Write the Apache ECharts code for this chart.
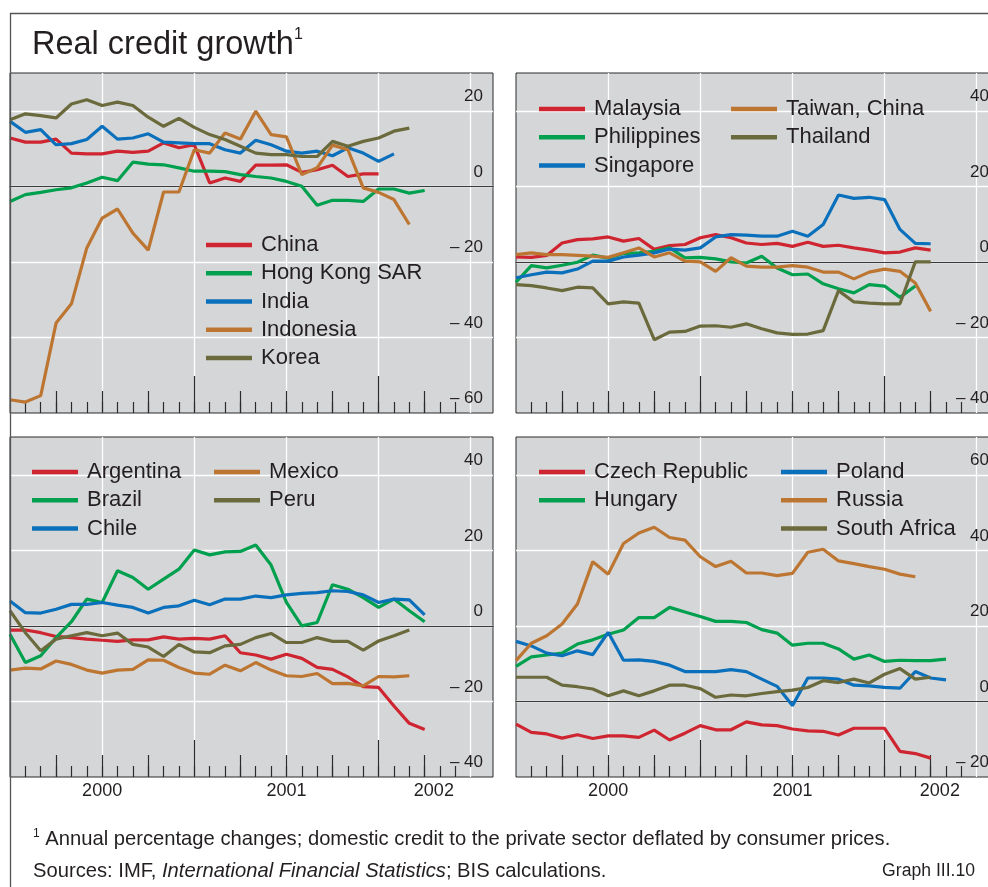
<!DOCTYPE html>
<html><head><meta charset="utf-8">
<script src="https://cdn.jsdelivr.net/npm/echarts@6/dist/echarts.min.js"></script>
<style>html,body{margin:0;padding:0;background:#fff}#c{width:988px;height:887px}</style>
</head><body><div id="c"></div>
<script>
// ---- Data (monthly observations, month index 0 = left edge of each panel) ----
const yearLabels = ['2000', '2001', '2002'];
const yearLabelPos = [6, 18, 27.6];
const shortTicks = [1,2,3,4,5,6,7,8,9,10,11,12,13,14,15,16,17,18,19,20,21,22,23,24,25,26,27,28,29];
const quarterTicks = [3,6,9,15,18,21,27];
const yearTicks = [12,24];

// Asia (top left)
const china = [12.8,11.7,11.7,12.5,8.8,8.6,8.6,9.3,9.0,9.3,11.5,10.2,11.0,0.9,2.2,1.3,5.6,5.6,5.7,3.7,4.4,5.6,2.6,3.3,3.3];
const hongKong = [-4.0,-2.2,-1.6,-0.9,-0.4,0.9,2.4,1.5,6.4,5.9,5.7,4.9,4.0,4.0,3.9,3.1,2.6,2.2,1.3,0,-5.0,-3.7,-3.7,-4.0,-0.7,-0.7,-1.8,-1.1];
const india = [17.2,14.3,15.0,11.0,11.3,12.4,15.9,12.5,12.8,13.9,11.7,11.5,11.3,11.3,9.7,8.8,12.2,11.0,9.3,8.8,9.3,8.1,10.2,8.8,6.6,8.6];
const indonesia = [-56.5,-57.1,-55.4,-36.2,-31.1,-16.3,-8.4,-6.0,-12.4,-16.9,-1.5,-1.5,9.7,8.8,14.1,12.5,19.9,13.7,13.1,3.1,4.9,10.9,9.7,-0.4,-1.6,-3.5,-10.1];
const korea = [17.6,19.2,18.7,18.1,21.8,22.9,21.4,22.3,21.4,18.3,15.9,18.0,15.6,13.7,12.4,10.6,8.8,8.4,8.4,7.9,7.9,11.9,10.6,11.9,12.8,14.6,15.4];

// Asia (top right)
const malaysia = [1.3,1.2,1.7,5.0,5.9,6.1,6.6,5.5,6.2,3.3,4.3,4.6,6.4,7.2,6.4,5.0,4.6,4.9,4.1,5.2,4.1,4.4,3.7,3.1,2.4,2.6,3.7,3.1];
const philippines = [-5.4,-1.0,-1.6,-0.9,-0.1,1.8,1.0,2.2,2.4,2.8,3.7,1.1,1.2,0.8,0,-0.3,1.5,-1.6,-3.4,-3.2,-5.8,-7.1,-8.2,-6.0,-6.4,-9.4,-6.4];
const singapore = [-4.2,-3.4,-2.7,-2.9,-1.9,0.2,0.2,1.3,1.8,2.4,3.4,3.1,3.7,6.6,7.2,7.1,6.8,6.8,8.1,6.8,9.9,17.7,16.8,17.1,16.5,8.6,4.9,4.8];
const taiwan = [1.9,2.4,1.9,1.9,1.7,1.5,1.2,2.4,3.7,1.3,2.4,0.2,0,-2.5,1.1,-1.1,-1.4,-1.4,-1.0,-1.4,-2.7,-2.7,-4.5,-2.7,-1.9,-2.5,-5.6,-13.1];
const thailand = [-6.0,-6.3,-6.9,-7.6,-6.7,-6.9,-11.1,-10.6,-10.9,-20.6,-18.6,-18.4,-17.0,-16.9,-17.3,-16.4,-17.7,-18.8,-19.2,-19.1,-18.2,-7.6,-10.6,-10.9,-11.1,-11.1,0,0];

// Latin America (bottom left)
const argentina = [-1.1,-1.1,-1.8,-2.8,-3.1,-3.5,-3.8,-4.1,-3.7,-3.7,-2.9,-3.5,-3.3,-3.5,-2.6,-7.1,-7.7,-8.8,-7.5,-8.6,-11.0,-11.5,-13.5,-16.1,-16.3,-21.2,-25.8,-27.4];
const brazil = [-2.2,-9.7,-7.9,-3.1,1.1,7.1,6.2,14.6,12.8,9.7,12.4,15.0,20.1,18.8,19.6,19.7,21.4,16.1,6.2,0,0.9,10.9,9.7,7.5,4.9,7.1,4.0,1.1];
const chile = [6.6,3.5,3.4,4.4,5.7,5.7,6.2,5.5,4.9,3.4,4.9,5.3,6.8,5.6,7.1,7.1,7.9,7.5,8.2,8.6,8.8,9.3,9.1,8.2,6.2,7.1,6.9,2.9];
const mexico = [-11.7,-11.2,-11.4,-9.3,-10.2,-11.7,-12.5,-11.7,-11.5,-9.0,-9.1,-11.0,-12.5,-12.8,-10.4,-11.9,-9.7,-11.7,-13.2,-13.4,-12.6,-15.3,-15.2,-15.9,-13.4,-13.5,-13.2];
const peru = [4.0,-1.8,-6.6,-3.5,-2.6,-1.8,-2.6,-1.9,-4.9,-5.6,-8.1,-4.9,-6.9,-7.1,-5.3,-4.9,-3.1,-2.0,-4.4,-4.4,-3.1,-4.1,-4.1,-6.4,-4.0,-2.6,-1.1];

// Europe / Africa (bottom right)
const czech = [-6.0,-8.2,-8.6,-9.7,-8.8,-9.8,-9.1,-9.1,-9.5,-7.6,-10.2,-8.4,-6.4,-7.5,-7.5,-5.4,-6.2,-6.4,-7.3,-7.8,-7.9,-8.9,-7.1,-7.1,-7.1,-13.2,-13.8,-15.0];
const hungary = [9.3,11.8,12.3,12.8,15.2,16.3,17.8,18.9,22.2,22.2,24.9,23.7,22.5,21.2,21.2,20.9,19.0,18.1,14.9,15.4,15.4,13.9,11.2,12.3,10.6,10.9,10.8,10.8,11.2];
const poland = [15.9,14.7,12.8,12.1,13.4,12.4,18.3,10.9,11.0,10.6,9.6,7.9,7.9,7.9,8.4,7.9,5.9,4.0,-1.1,6.2,6.2,5.9,4.3,4.1,3.7,3.5,7.9,6.2,5.7];
const russia = [10.8,15.4,17.4,20.5,25.8,37.0,33.7,41.8,44.6,46.1,43.4,42.7,38.3,35.7,37.1,34.0,34.0,33.3,33.9,39.5,40.3,37.2,36.5,35.7,35.0,33.7,33.0];
const southAfrica = [6.4,6.4,6.4,4.3,3.9,3.3,1.5,2.8,1.5,2.8,4.3,4.3,3.4,1.1,1.7,1.5,2.1,2.6,3.0,3.7,5.5,5.0,5.9,4.9,7.2,8.7,5.9,6.4];

// ---- Styling ----
const FONT = '"Liberation Sans", Arial, Helvetica, sans-serif';
const COL = {red:'#cf2530', green:'#00a04e', blue:'#0a70bc', orange:'#bd7632', olive:'#6b6a3c'};
const TXT = '#231f20';
const XMAX = 31.45;

const panels = [
  {left:10, top:73, yMin:-60, yMax:30, years:false,
   series:[['China',china,'red'],['Hong Kong SAR',hongKong,'green'],['India',india,'blue'],['Indonesia',indonesia,'orange'],['Korea',korea,'olive']],
   legends:[{left:206, top:231, names:['China','Hong Kong SAR','India','Indonesia','Korea']}]},
  {left:516, top:73, yMin:-40, yMax:50, years:false,
   series:[['Malaysia',malaysia,'red'],['Philippines',philippines,'green'],['Singapore',singapore,'blue'],['Taiwan, China',taiwan,'orange'],['Thailand',thailand,'olive']],
   legends:[{left:539, top:95, names:['Malaysia','Philippines','Singapore']},{left:731, top:95, names:['Taiwan, China','Thailand']}]},
  {left:10, top:437, yMin:-40, yMax:50, years:true,
   series:[['Argentina',argentina,'red'],['Brazil',brazil,'green'],['Chile',chile,'blue'],['Mexico',mexico,'orange'],['Peru',peru,'olive']],
   legends:[{left:32, top:458, names:['Argentina','Brazil','Chile']},{left:214, top:458, names:['Mexico','Peru']}]},
  {left:516, top:437, yMin:-20, yMax:70, years:true,
   series:[['Czech Republic',czech,'red'],['Hungary',hungary,'green'],['Poland',poland,'blue'],['Russia',russia,'orange'],['South Africa',southAfrica,'olive']],
   legends:[{left:539, top:458, names:['Czech Republic','Hungary']},{left:781, top:458, names:['Poland','Russia','South Africa']}]}
];

const grid = [], xAxis = [], yAxis = [], series = [], legend = [];
const tickStyle = {color:'#2b2b2b', width:1.2};
panels.forEach((p, i) => {
  grid.push({left:p.left, top:p.top, width:483, height:340, show:true, containLabel:false,
    outerBoundsMode:'none',
    backgroundColor:'#d5d6d8', borderColor:'#2b2b2b', borderWidth:1});
  // main axis: vertical white grid lines + zero line
  xAxis.push({gridIndex:i, type:'value', min:0, max:XMAX, interval:6, position:'bottom',
    axisLine:{show:true, onZero:true, lineStyle:{color:'#3a3a3a', width:1.2}},
    axisTick:{show:false}, axisLabel:{show:false},
    splitLine:{show:true, showMinLine:false, showMaxLine:false, lineStyle:{color:'#ffffff', width:1.3}}});
  const tickAxis = (vals, len, labels) => ({gridIndex:i, type:'value', min:0, max:XMAX, position:'bottom',
    axisLine:{show:false, onZero:false},
    axisTick:{show:true, inside:true, length:len, customValues:vals, lineStyle:tickStyle},
    axisLabel: labels ? {show:true, customValues:yearLabelPos, margin:5, fontSize:18, fontFamily:FONT, color:TXT,
      formatter:(v)=>{ const k = yearLabelPos.findIndex(x=>Math.abs(x-v)<1e-6); return k>=0 ? yearLabels[k] : ''; }} : {show:false},
    splitLine:{show:false}});
  xAxis.push(tickAxis(shortTicks, 11, p.years));
  xAxis.push(tickAxis(quarterTicks, 22, false));
  xAxis.push(tickAxis(yearTicks, 37, false));
  yAxis.push({gridIndex:i, type:'value', position:'right', min:p.yMin, max:p.yMax, interval:20,
    axisLine:{show:false}, axisTick:{show:false},
    splitLine:{show:true, showMinLine:false, showMaxLine:false, lineStyle:{color:'#ffffff', width:1.3}},
    axisLabel:{inside:true, margin:10, fontSize:17, fontFamily:FONT, color:TXT, verticalAlign:'bottom',
      padding:[0,0,6,0], showMaxLabel:false,
      formatter:(v)=> (v % 20 !== 0) ? '' : (v < 0 ? '\u2013 ' + Math.abs(v) : String(v))}});
  p.series.forEach(([name, arr, c]) => {
    series.push({name, type:'line', xAxisIndex:i*4, yAxisIndex:i, showSymbol:false, symbol:'none',
      data: arr.map((v, k) => [k, v]), color:COL[c],
      lineStyle:{color:COL[c], width:3.2}, emphasis:{disabled:true}, animation:false});
  });
  p.legends.forEach(l => {
    legend.push({left:l.left, top:l.top, orient:'vertical', padding:0, itemGap:0.25,
      itemWidth:46, itemHeight:4.5, icon:'rect', data:l.names, selectedMode:false,
      textStyle:{fontSize:22, fontFamily:FONT, color:TXT, lineHeight:18, padding:[0,0,10,4]}});
  });
});

const option = {
  animation:false,
  backgroundColor:'#ffffff',
  title:[
    {text:'{a|Real credit growth}{s|1}', left:32, top:27, padding:0,
     textStyle:{fontWeight:'normal', rich:{a:{fontSize:32.5, fontWeight:'normal', fontFamily:FONT, color:TXT, lineHeight:36},
                      s:{fontSize:16, fontWeight:'normal', fontFamily:FONT, color:TXT, verticalAlign:'top', lineHeight:24}}}},
    {text:'{s|1}{t| Annual percentage changes; domestic credit to the private sector deflated by consumer prices.}',
     left:33, top:828, padding:0,
     textStyle:{fontWeight:'normal', rich:{t:{fontSize:20.2, fontWeight:'normal', fontFamily:FONT, color:TXT, lineHeight:22},
                      s:{fontSize:12, fontWeight:'normal', fontFamily:FONT, color:TXT, verticalAlign:'top', lineHeight:19}}}},
    {text:'{t|Sources: IMF, }{i|International Financial Statistics}{t|; BIS calculations.}',
     left:33, top:860, padding:0,
     textStyle:{fontWeight:'normal', rich:{t:{fontSize:20.2, fontWeight:'normal', fontFamily:FONT, color:TXT, lineHeight:22},
                      i:{fontSize:20.2, fontWeight:'normal', fontFamily:FONT, color:TXT, fontStyle:'italic', lineHeight:22}}}},
    {text:'Graph III.10', right:13, top:860, padding:0,
     textStyle:{fontSize:17.6, fontFamily:FONT, color:TXT, fontWeight:'normal', lineHeight:22}}
  ],
  graphic:[{type:'polyline', silent:true, z:100,
    shape:{points:[[988,13.5],[10.5,13.5],[10.5,887]]},
    style:{stroke:'#555555', lineWidth:1.3, fill:null}}],
  grid, xAxis, yAxis, series, legend
};

const chart = echarts.init(document.getElementById('c'), null, {renderer:'canvas'});
chart.setOption(option);
</script>
</body></html>
